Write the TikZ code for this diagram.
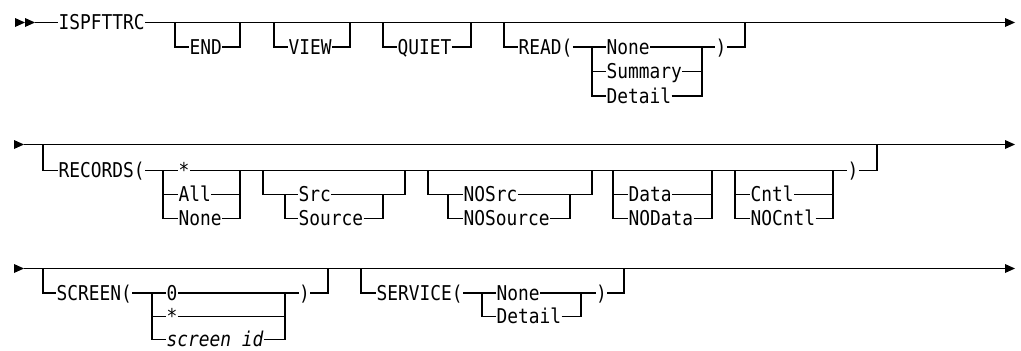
\documentclass[tikz,border=0pt]{standalone}
\usepackage{fontspec}
\newfontfamily\synfont[FakeStretch=0.876]{DejaVu Sans Mono}
\usepackage{tikz}
\usetikzlibrary{calc}
\def\tri(#1,#2){\fill (#1,#2-4.5) -- (#1+10,#2) -- (#1,#2+4.5) -- cycle;}

\begin{document}
\begin{tikzpicture}[x=0.025cm,y=-0.025cm,line width=0.8pt,
	kw/.style={inner xsep=0pt,inner ysep=0pt,text height=10.57pt,text depth=0pt,anchor=west,font=\synfont\fontsize{14.5}{17}\selectfont}]
			%%%%% START %%%%%
			\useasboundingbox (0,0) rectangle (1021,350);
			
			% row 1
			\tri(15,22.5) \tri(25,22.5)
			\coordinate (r1 in) at (35,22.5);
			\coordinate (r1 out) at (1005,22.5);
			\node[kw] (ispf) at (58,22.5) {ISPFTTRC};
			\draw (r1 in) -- (ispf.west);
			\draw (ispf.east) -- (r1 out);
			\tri(1005,22.5)
			
			\coordinate (end l) at (175,22.5);
			\coordinate (end r) at (240,22.5);
			\node[kw] (end) at (189,47) {END};
			\draw (end l) |- (end.west) (end.east) -| (end r);
			
			\coordinate (view l) at (274,22.5);
			\coordinate (view r) at (350,22.5);
			\node[kw] (view) at (288,47) {VIEW};
			\draw (view l) |- (view.west) (view.east) -| (view r);
			
			\coordinate (quiet l) at (383,22.5);
			\coordinate (quiet r) at (471,22.5);
			\node[kw] (quiet) at (397,47) {QUIET};
			\draw (quiet l) |- (quiet.west) (quiet.east) -| (quiet r);
			
			\coordinate (read l) at (504,22.5);
			\coordinate (read r) at (745,22.5);
			\coordinate (read f) at (592,47);
			\coordinate (read j) at (702,47);
			\node[kw] (read) at (518,47) {READ(};
			\node[kw] (rd none) at (606,47) {None};
			\node[kw] (rd sum) at (606,71.5) {Summary};
			\node[kw] (rd det) at (606,96) {Detail};
			\node[kw] (rd cl) at (715,47) {)};
			\draw (read l) |- (read.west) (read.east) -- (rd none.west) (rd none.east) -- (rd cl.west) (rd cl.east) -| (read r);
			\draw (read f) |- (rd sum.west) (read f) |- (rd det.west);
			\draw (rd sum.east) -| (read j) (rd det.east) -| (read j);
			
			% row 2
			\tri(14,144.5)
			\coordinate (r2 in) at (24,144.5);
			\coordinate (r2 out) at (1005,144.5);
			\draw (r2 in) -- (r2 out);
			\tri(1005,144.5)
			
			\coordinate (rec l) at (43,144.5);
			\coordinate (rec r) at (877,144.5);
			\coordinate (rec f) at (163,170.5);
			\coordinate (rec j) at (240,170.5);
			\node[kw] (rec) at (58,170.5) {RECORDS(};
			\node[kw] (rc star) at (178,170.5) {*};
			\node[kw] (rc all) at (178,194.5) {All};
			\node[kw] (rc none) at (178,218.5) {None};
			\node[kw] (rc cl) at (847,170.5) {)};
			\draw (rec l) |- (rec.west) (rec.east) -- (rc star.west) (rc star.east) -- (rc cl.west) (rc cl.east) -| (rec r);
			\draw (rec f) |- (rc all.west) (rec f) |- (rc none.west);
			\draw (rc all.east) -| (rec j) (rc none.east) -| (rec j);
			
			\coordinate (src l) at (263,170.5);
			\coordinate (src f) at (285,194.5);
			\coordinate (src j) at (383,194.5);
			\coordinate (src r) at (405,170.5);
			\node[kw] (src) at (298,194.5) {Src};
			\node[kw] (source) at (298,218.5) {Source};
			\draw (src l) |- (src.west) (src.east) -| (src r);
			\draw (src f) |- (source.west) (source.east) -| (src j);
			
			\coordinate (nos l) at (428,170.5);
			\coordinate (nos f) at (448,194.5);
			\coordinate (nos j) at (570,194.5);
			\coordinate (nos r) at (592,170.5);
			\node[kw] (nosrc) at (463,194.5) {NOSrc};
			\node[kw] (nosource) at (463,218.5) {NOSource};
			\draw (nos l) |- (nosrc.west) (nosrc.east) -| (nos r);
			\draw (nos f) |- (nosource.west) (nosource.east) -| (nos j);
			
			\coordinate (dat l) at (613,170.5);
			\coordinate (dat r) at (712,170.5);
			\node[kw] (data) at (628,194.5) {Data};
			\node[kw] (nodata) at (628,218.5) {NOData};
			\draw (dat l) |- (data.west) (dat l) |- (nodata.west);
			\draw (data.east) -| (dat r) (nodata.east) -| (dat r);
			
			\coordinate (cnt l) at (735,170.5);
			\coordinate (cnt r) at (833,170.5);
			\node[kw] (cntl) at (750,194.5) {Cntl};
			\node[kw] (nocntl) at (750,218.5) {NOCntl};
			\draw (cnt l) |- (cntl.west) (cnt l) |- (nocntl.west);
			\draw (cntl.east) -| (cnt r) (nocntl.east) -| (cnt r);
			
			% row 3
			\tri(14,268.5)
			\coordinate (r3 in) at (24,268.5);
			\coordinate (r3 out) at (1005,268.5);
			\draw (r3 in) -- (r3 out);
			\tri(1005,268.5)
			
			\coordinate (scr l) at (43,268.5);
			\coordinate (scr r) at (328,268.5);
			\coordinate (scr f) at (152,293);
			\coordinate (scr j) at (285,293);
			\node[kw] (scr) at (56,293) {SCREEN(};
			\node[kw] (sc zero) at (166,293) {0};
			\node[kw] (sc star) at (166,316.5) {*};
			\node[kw] (sc id) at (166,339.5) {\itshape screen id};
			\node[kw] (sc cl) at (298.5,293) {)};
			\draw (scr l) |- (scr.west) (scr.east) -- (sc zero.west) (sc zero.east) -- (sc cl.west) (sc cl.east) -| (scr r);
			\draw (scr f) |- (sc star.west) (scr f) |- (sc id.west);
			\draw (sc star.east) -| (scr j) (sc id.east) -| (scr j);
			
			\coordinate (srv l) at (361,268.5);
			\coordinate (srv r) at (624,268.5);
			\coordinate (srv f) at (482,293);
			\coordinate (srv j) at (581,293);
			\node[kw] (srv) at (376,293) {SERVICE(};
			\node[kw] (sv none) at (496,293) {None};
			\node[kw] (sv det) at (496,316.5) {Detail};
			\node[kw] (sv cl) at (595.5,293) {)};
			\draw (srv l) |- (srv.west) (srv.east) -- (sv none.west) (sv none.east) -- (sv cl.west) (sv cl.east) -| (srv r);
			\draw (srv f) |- (sv det.west);
			\draw (sv det.east) -| (srv j);
			%%%%% END %%%%%
		\end{tikzpicture}
\end{document}
